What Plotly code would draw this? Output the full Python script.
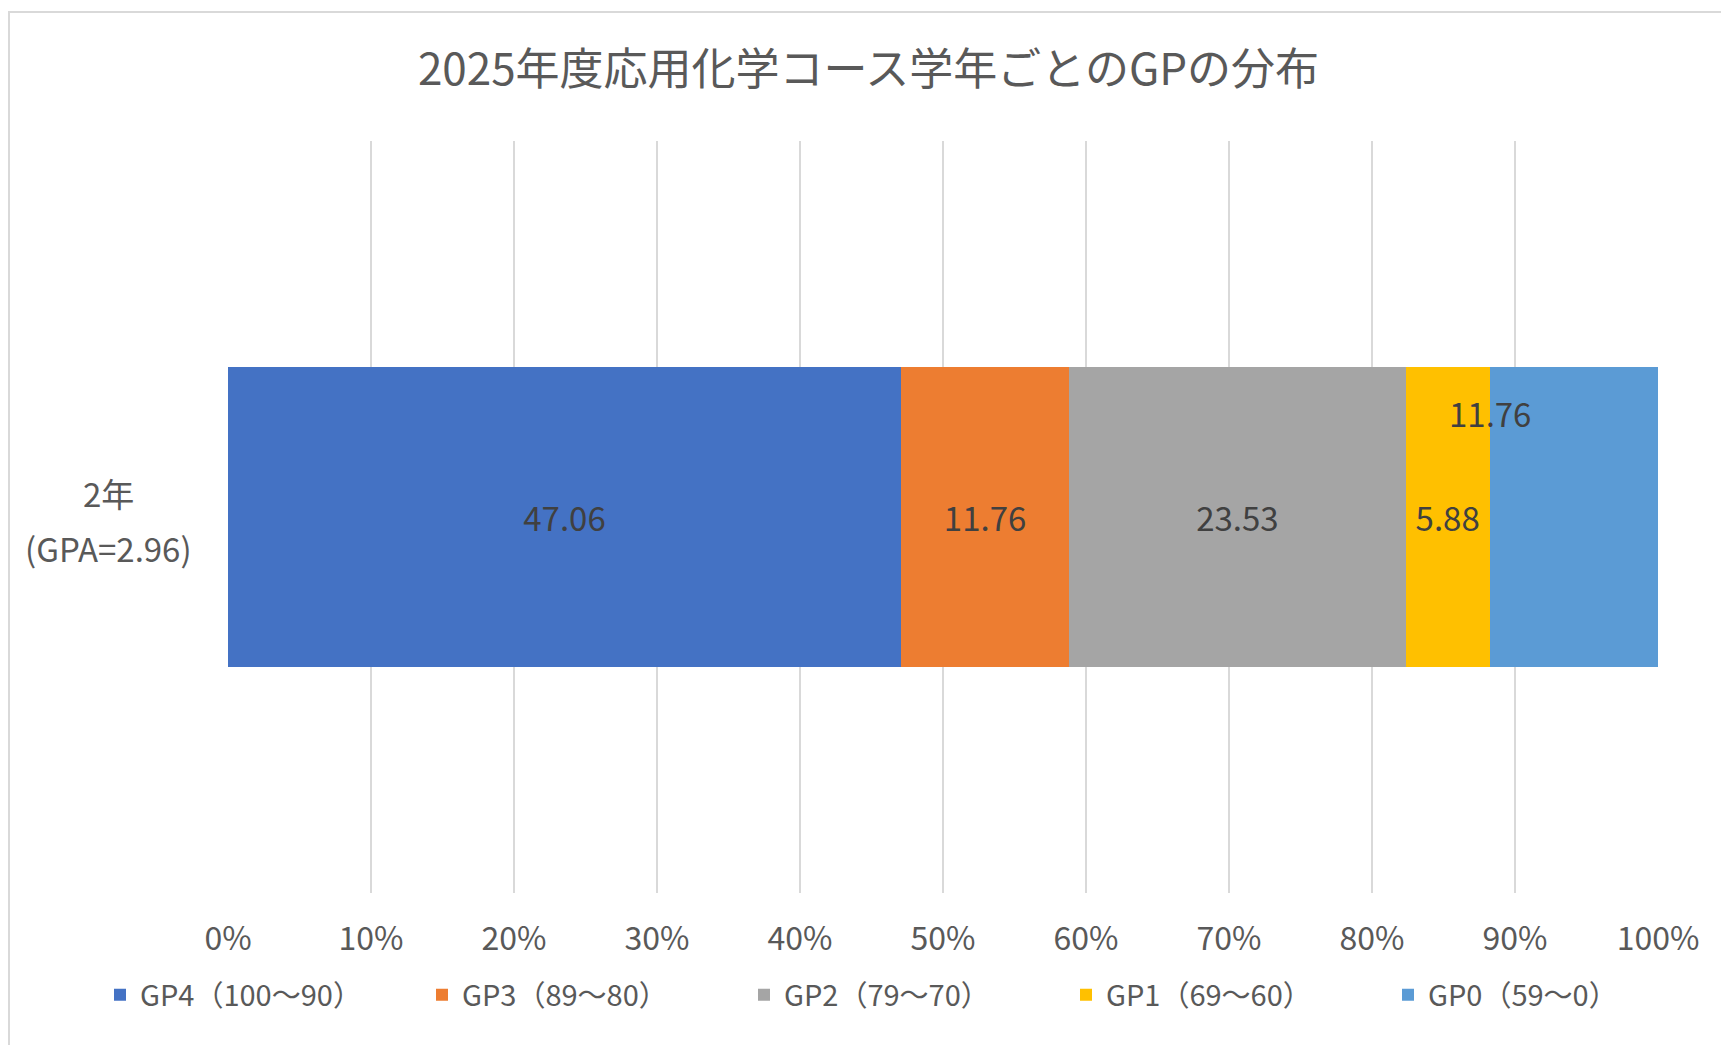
import plotly.graph_objects as go

# ---- data ----
categories = ["2年<br>(GPA=2.96)"]
series_names = ["GP4（100～90）", "GP3（89～80）", "GP2（79～70）", "GP1（69～60）", "GP0（59～0）"]
series_values = [[47.06], [11.76], [23.53], [5.88], [11.76]]
series_colors = ["#4472C4", "#ED7D31", "#A5A5A5", "#FFC000", "#5B9BD5"]
tick_values = [0, 10, 20, 30, 40, 50, 60, 70, 80, 90, 100]
tick_labels = ["0%", "10%", "20%", "30%", "40%", "50%", "60%", "70%", "80%", "90%", "100%"]
title_text = "2025年度応用化学コース学年ごとのGPの分布"

FONT = "Noto Sans CJK JP"
# the page body has an 8px margin, so the figure is laid out 8px smaller/offset
W, H = 1721, 1037
L, T, PW, PH = 220, 133, 1430, 752
R, B = W - L - PW, H - T - PH

fig = go.Figure()
for i, (name, vals, col) in enumerate(zip(series_names, series_values, series_colors)):
    last = i == len(series_names) - 1
    fig.add_trace(go.Bar(
        y=categories, x=vals, name=name, orientation="h",
        marker=dict(color=col, line=dict(width=0)),
        text=[f"{v:.2f}" for v in vals],
        texttemplate="%{text}" if not last else None,
        textposition="inside" if not last else "none",
        insidetextanchor="middle",
        textfont=dict(family=FONT, size=33, color="#404040"),
        hoverinfo="skip",
    ))

# label of the last series, placed (as in the original) at its left edge, above centre
cum_before_last = sum(v[0] for v in series_values[:-1])
fig.add_annotation(
    x=cum_before_last, y=categories[0], xref="x", yref="y",
    text=f"{series_values[-1][0]:.2f}", showarrow=False,
    yshift=104, xanchor="center", yanchor="middle",
    font=dict(family=FONT, size=33, color="#404040"),
)

# category label: two centred lines with wide spacing, as in the original
for line, shift in zip(categories[0].split("<br>"), [24, -31]):
    fig.add_annotation(
        x=(100 - L) / PW, y=categories[0], xref="paper", yref="y",
        text=line, showarrow=False, align="center",
        xanchor="center", yanchor="middle", yshift=shift,
        font=dict(family=FONT, size=33, color="#595959"),
    )

# chart area border
fig.add_shape(
    type="rect", xref="paper", yref="paper",
    x0=(1 - L) / PW, x1=(1720 - L) / PW,
    y0=(T + PH - 1060) / PH, y1=(T + PH - 4) / PH,
    line=dict(color="#D9D9D9", width=2), fillcolor="rgba(0,0,0,0)", layer="below",
)

fig.update_layout(
    width=W, height=H,
    autosize=False,
    margin=dict(l=L, r=R, t=T, b=B, pad=0, autoexpand=False),
    paper_bgcolor="white", plot_bgcolor="white",
    barmode="stack", bargap=0.6,
    title=dict(text=title_text, x=0.5, xanchor="center", xref="container",
               y=1 - 62 / H, yanchor="middle", yref="container",
               font=dict(family=FONT, size=44, color="#595959")),
    xaxis=dict(range=[0, 100], tickvals=tick_values, ticktext=tick_labels,
               showgrid=True, gridcolor="#D9D9D9", gridwidth=1.5,
               zeroline=False, showline=False, ticks="",
               ticklabelstandoff=24,
               tickfont=dict(family=FONT, size=32, color="#595959")),
    yaxis=dict(showticklabels=False, showgrid=False, zeroline=False,
               showline=False, ticks="", range=[-0.5, 0.5]),
    legend=dict(orientation="h", x=(92 - L) / PW, xanchor="left",
                y=(T + PH - 987) / PH, yanchor="middle",
                entrywidth=277, entrywidthmode="pixels",
                traceorder="normal",
                font=dict(family=FONT, size=29, color="#595959"),
                bgcolor="rgba(0,0,0,0)", itemclick=False),
    uniformtext=dict(minsize=33, mode="show"),
    showlegend=True,
)

fig.write_html("out.html")
